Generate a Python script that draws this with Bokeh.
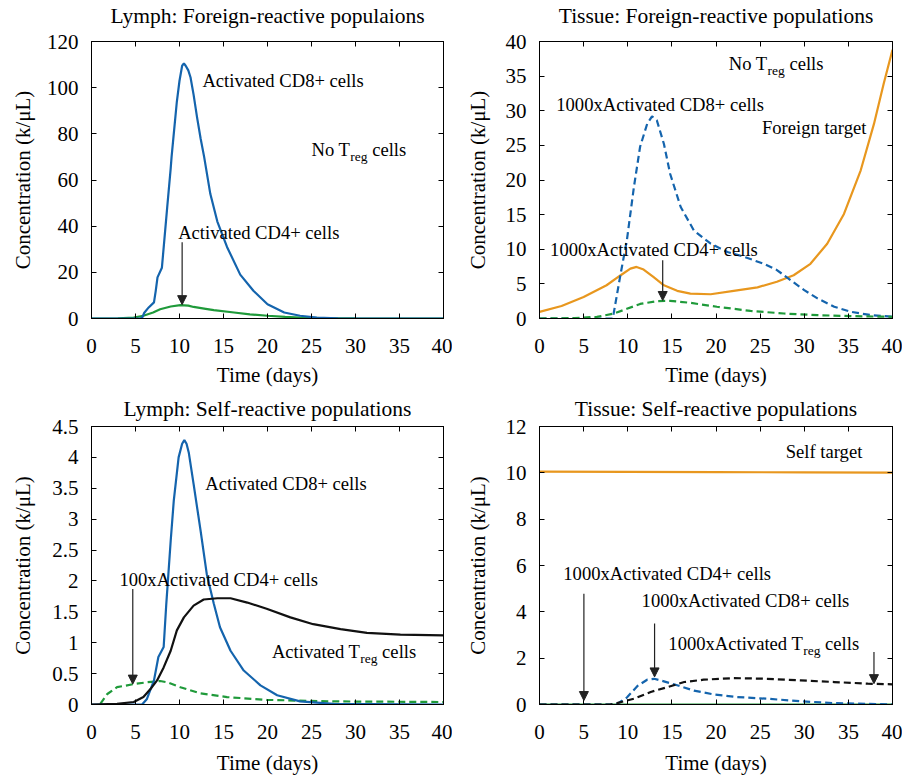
from bokeh.plotting import figure
from bokeh.models import (LinearAxis, Range1d, FixedTicker, Arrow, NormalHead,
                          CustomJSTickFormatter)
from bokeh.layouts import gridplot
from bokeh.core.properties import value
from bokeh.embed import file_html
from bokeh.resources import INLINE

FONT = "Liberation Serif"
BLUE = "#1464ad"
GREEN = "#1f9a3a"
ORANGE = "#e8971e"
BLACK = "#111111"

# ---------------- data ----------------
x_ticks = [0, 5, 10, 15, 20, 25, 30, 35, 40]

# Panel 1: Lymph, foreign-reactive
lf_cd8_t = [0, 5.5, 5.75, 6.0, 6.5, 7.1, 7.3, 7.5, 8.0, 8.3, 8.6, 9.0, 9.1, 9.4, 9.7, 10.0,
            10.3, 10.5, 10.7, 11.0, 11.25, 11.6, 12.0, 12.4, 12.8, 13.5, 14.3, 15.4, 16.9,
            18.4, 20.0, 21.9, 23.7, 25.6, 28, 32, 40]
lf_cd8_y = [0, 0, 0.3, 2.5, 4.8, 7, 12, 17.8, 22, 35, 48, 65, 70, 82, 94, 103,
            109.5, 110.5, 109.5, 107.5, 104.5, 97, 87, 78, 70, 54, 42, 31, 19,
            12, 6.2, 2.6, 1.2, 0.4, 0.1, 0, 0]
lf_cd4_t = [0, 3, 4.8, 5.9, 7, 7.8, 9, 10.1, 11.0, 11.6, 12.8, 13.9, 16.2, 18, 20, 22,
            23.7, 26, 30, 40]
lf_cd4_y = [0, 0.1, 0.4, 1.2, 2.6, 4, 5.2, 5.8, 5.6, 5.0, 4.3, 3.6, 2.6, 1.8, 1.2, 0.7,
            0.4, 0.2, 0.05, 0]
lf_y_ticks = [0, 20, 40, 60, 80, 100, 120]

# Panel 2: Tissue, foreign-reactive
tf_target_t = [0, 2.5, 5.0, 7.6, 9.2, 10.3, 11.0, 11.8, 12.9, 14.1, 15.6, 17.1, 19.4, 22.0,
               24.7, 26.9, 28.8, 30.7, 32.6, 34.5, 36.4, 37.9, 39.0, 40]
tf_target_y = [0.96, 1.8, 3.1, 4.8, 6.25, 7.2, 7.45, 7.07, 6.0, 4.8, 4.0, 3.6, 3.5, 4.0,
               4.5, 5.3, 6.25, 7.9, 10.8, 15.1, 21.4, 28.1, 33.9, 38.8]
tf_cd8_t = [0, 8.3, 8.4, 9.2, 9.9, 10.7, 11.4, 12.2, 12.75, 13.3, 14.1, 14.8, 16.0, 17.5,
            19.4, 21.3, 23.2, 25.4, 26.9, 28.5, 30.0, 31.5, 33.4, 35.3, 37.5, 40]
tf_cd8_y = [0, 0, 0.7, 6.5, 11.3, 19, 24.8, 28.1, 29.2, 28.6, 25.2, 20.9, 16.1, 12.7,
            10.8, 9.6, 8.9, 7.9, 7.0, 5.5, 4.1, 2.9, 1.7, 0.96, 0.5, 0.25]
tf_cd4_t = [0, 4, 6.5, 8.4, 9.9, 11.4, 13.3, 14.8, 17.1, 20.1, 23.9, 27.7, 31.5, 35.3, 40]
tf_cd4_y = [0, 0.05, 0.24, 0.7, 1.4, 2.1, 2.5, 2.55, 2.26, 1.7, 1.1, 0.72, 0.48, 0.34, 0.24]
tf_y_ticks = [0, 5, 10, 15, 20, 25, 30, 35, 40]

# Panel 3: Lymph, self-reactive
ls_cd8_t = [0, 5.75, 6.3, 7.1, 7.6, 8.2, 8.5, 9.0, 9.35, 9.9, 10.3, 10.55, 10.8, 11.05,
            11.6, 12.4, 13.1, 13.9, 14.6, 15.8, 17.3, 19.2, 21.1, 23.7, 27.5, 40]
ls_cd8_y = [0, 0, 0.09, 0.39, 0.77, 0.93, 1.63, 2.65, 3.3, 4.0, 4.22, 4.28, 4.22, 4.08,
            3.57, 2.81, 2.11, 1.63, 1.25, 0.87, 0.55, 0.31, 0.15, 0.05, 0.01, 0]
ls_treg_t = [0, 2.9, 4.8, 5.9, 6.7, 7.45, 8.2, 9.0, 9.7, 10.5, 11.6, 12.75, 14.3, 15.8,
             17.7, 19.9, 22.6, 25.2, 28.3, 31.3, 35.1, 40]
ls_treg_y = [0, 0.01, 0.04, 0.12, 0.25, 0.39, 0.6, 0.87, 1.2, 1.41, 1.6, 1.7, 1.72, 1.72,
             1.65, 1.55, 1.41, 1.3, 1.22, 1.16, 1.13, 1.12]
ls_cd4_t = [1.0, 1.8, 2.9, 4.8, 6.3, 7.8, 8.6, 10.1, 12.4, 15.4, 19.9, 27.5, 40]
ls_cd4_y = [0.01, 0.17, 0.28, 0.33, 0.36, 0.38, 0.36, 0.28, 0.18, 0.12, 0.075, 0.05, 0.04]
ls_y_ticks = [0, 0.5, 1, 1.5, 2, 2.5, 3, 3.5, 4, 4.5]

# Panel 4: Tissue, self-reactive
ts_target_t = [0, 10, 20, 30, 40]
ts_target_y = [10.05, 10.04, 10.03, 10.02, 10.01]
ts_cd4_t = [0, 10, 20, 30, 40]
ts_cd4_y = [0, 0, 0, 0, 0]
ts_cd8_t = [0, 8.5, 8.8, 9.9, 11.1, 12.2, 13.0, 14.1, 15.6, 17.5, 19.8, 22.4, 25.8, 29.6,
            33.4, 40]
ts_cd8_y = [0, 0, 0.03, 0.3, 0.8, 1.07, 1.11, 1.0, 0.83, 0.6, 0.43, 0.32, 0.25, 0.14,
            0.06, 0]
ts_treg_t = [0, 8, 8.8, 10.7, 12.6, 14.5, 16.4, 18.6, 22.0, 25.8, 29.6, 33.4, 37.2, 40]
ts_treg_y = [0, 0, 0.06, 0.25, 0.54, 0.75, 0.97, 1.07, 1.14, 1.11, 1.04, 0.97, 0.9, 0.87]
ts_y_ticks = [0, 2, 4, 6, 8, 10, 12]

# Times-like glyph widths (per 1000 em) for placing subscripts
W = {'N': 722, 'o': 500, ' ': 250, 'T': 611, 'A': 722, 'c': 444, 't': 278, 'i': 278,
     'v': 500, 'a': 444, 'e': 444, 'd': 500, '1': 500, '0': 500, 'x': 500, 'r': 333,
     'g': 500, 'l': 278, 's': 389}


def text_width(s, size):
    return sum(W.get(ch, 500) for ch in s) * size / 1000.0


ANN = 18.6  # annotation font size px
SUB = 13.5


def style_axis(ax, labels=True, standoff=13, label_standoff=12):
    ax.major_tick_in = 5
    ax.major_tick_out = 0
    ax.minor_tick_line_color = None
    ax.axis_line_color = "black"
    ax.major_tick_line_color = "black"
    ax.major_label_text_font = FONT
    if labels:
        ax.major_label_text_color = "black"
        ax.major_label_text_font_size = "21px"
        ax.major_label_standoff = standoff
    else:
        ax.major_label_text_color = None
        ax.major_label_text_font_size = "1px"
        ax.major_label_standoff = 0
    ax.axis_label_text_font = FONT
    ax.axis_label_text_font_size = "21px"
    ax.axis_label_text_font_style = "normal"
    ax.axis_label_text_color = "black"
    ax.axis_label_standoff = label_standoff


def make_fig(title, y_max, y_ticks, width, height, left, right, top, bottom,
             title_standoff, title_valign, xlab_standoff, ylab_standoff=9, fmt=None):
    p = figure(width=width, height=height, output_backend="svg", toolbar_location=None,
               x_range=Range1d(x_ticks[0], x_ticks[-1]), y_range=Range1d(0, y_max),
               min_border_left=left, min_border_right=right,
               min_border_top=top, min_border_bottom=bottom,
               x_axis_label="Time (days)", y_axis_label="Concentration (k/\u03bcL)")
    p.title.text = title
    p.title.align = "center"
    p.title.vertical_align = title_valign
    p.title.text_font = FONT
    p.title.text_font_size = "21.5px"
    p.title.text_font_style = "normal"
    p.title.text_color = "black"
    p.title.standoff = title_standoff
    p.grid.visible = False
    p.outline_line_color = "black"
    p.background_fill_color = "white"
    p.border_fill_color = "white"
    xt = FixedTicker(ticks=x_ticks)
    yt = FixedTicker(ticks=y_ticks)
    p.xaxis[0].ticker = xt
    p.yaxis[0].ticker = yt
    style_axis(p.xaxis[0], standoff=20, label_standoff=xlab_standoff)
    style_axis(p.yaxis[0], standoff=13, label_standoff=ylab_standoff)
    if fmt is not None:
        p.yaxis[0].formatter = fmt
    top_ax = LinearAxis(ticker=xt)
    style_axis(top_ax, labels=False)
    right_ax = LinearAxis(ticker=yt)
    style_axis(right_ax, labels=False)
    p.add_layout(top_ax, "above")
    p.add_layout(right_ax, "right")
    return p


def label(p, x, y, txt, x_offset=0):
    p.text(x=[x], y=[y], text=[txt], x_offset=x_offset, text_font=value(FONT),
           text_font_size=f"{ANN}px", text_align="left", text_baseline="middle",
           text_color="black")


def treg_label(p, x, y, prefix):
    main = prefix + "T"
    w1 = text_width(main, ANN)
    w2 = text_width("reg", SUB)
    label(p, x, y, main)
    p.text(x=[x], y=[y], text=["reg"], x_offset=w1, y_offset=7, text_font=value(FONT),
           text_font_size=f"{SUB}px", text_align="left", text_baseline="middle",
           text_color="black")
    label(p, x, y, "cells", x_offset=w1 + w2 + text_width(" ", ANN))


def arrow(p, x, y0, y1):
    p.add_layout(Arrow(end=NormalHead(size=9, fill_color="#222222", line_color="#222222",
                                      line_width=1),
                       x_start=x, y_start=y0, x_end=x, y_end=y1,
                       line_color="#222222", line_width=1.2))


DASH = "7 4"
SHIFT = 15  # the grid is lifted by this many px, so that titles can sit high
W1, W2 = 452, 450
ROW1 = dict(height=407, top=56, bottom=74, title_standoff=28, title_valign="bottom",
            xlab_standoff=7)
ROW2 = dict(height=388, top=34, bottom=76, title_standoff=7, title_valign="top",
            xlab_standoff=9)

# Panel 1
p1 = make_fig("Lymph: Foreign-reactive populaions", 120, lf_y_ticks, W1,
              left=91, right=9, **ROW1)
p1.line(lf_cd4_t, lf_cd4_y, line_color=GREEN, line_width=2.2)
p1.line(lf_cd8_t, lf_cd8_y, line_color=BLUE, line_width=2.2)
label(p1, 12.6, 103.3, "Activated CD8+ cells")
treg_label(p1, 25.0, 73.4, "No ")
label(p1, 9.85, 37.3, "Activated CD4+ cells")
arrow(p1, 10.3, 33, 6)

# Panel 2
p2 = make_fig("Tissue: Foreign-reactive populations", 40, tf_y_ticks, W2,
              left=87, right=10, ylab_standoff=13, **ROW1)
p2.line(tf_target_t, tf_target_y, line_color=ORANGE, line_width=2.2)
p2.line(tf_cd8_t, tf_cd8_y, line_color=BLUE, line_width=2.2, line_dash=DASH)
p2.line(tf_cd4_t, tf_cd4_y, line_color=GREEN, line_width=2.2, line_dash=DASH)
treg_label(p2, 21.45, 36.8, "No ")
label(p2, 1.9, 30.9, "1000xActivated CD8+ cells")
label(p2, 25.2, 27.6, "Foreign target")
label(p2, 1.2, 9.95, "1000xActivated CD4+ cells")
arrow(p2, 13.96, 8.4, 2.6)

# Panel 3
fmt3 = CustomJSTickFormatter(code="return String(tick);")
p3 = make_fig("Lymph: Self-reactive populations", 4.5, ls_y_ticks, W1,
              left=91, right=9, ylab_standoff=14, fmt=fmt3, **ROW2)
p3.line(ls_cd4_t, ls_cd4_y, line_color=GREEN, line_width=2.2, line_dash=DASH)
p3.line(ls_cd8_t, ls_cd8_y, line_color=BLUE, line_width=2.2)
p3.line(ls_treg_t, ls_treg_y, line_color=BLACK, line_width=2.2)
label(p3, 12.94, 3.57, "Activated CD8+ cells")
label(p3, 3.18, 2.02, "100xActivated CD4+ cells")
arrow(p3, 4.69, 1.87, 0.33)
treg_label(p3, 20.5, 0.85, "Activated ")

# Panel 4
p4 = make_fig("Tissue: Self-reactive populations", 12, ts_y_ticks, W2,
              left=87, right=10, ylab_standoff=13, **ROW2)
p4.line(ts_target_t, ts_target_y, line_color=ORANGE, line_width=2.2)
p4.line(ts_cd4_t, ts_cd4_y, line_color=GREEN, line_width=2.2)
p4.line(ts_cd8_t, ts_cd8_y, line_color=BLUE, line_width=2.2, line_dash=DASH)
p4.line(ts_treg_t, ts_treg_y, line_color=BLACK, line_width=2.2, line_dash=DASH)
label(p4, 27.9, 10.93, "Self target")
label(p4, 2.7, 5.64, "1000xActivated CD4+ cells")
arrow(p4, 5.03, 4.78, 0.17)
label(p4, 11.57, 4.51, "1000xActivated CD8+ cells")
arrow(p4, 13.04, 3.5, 1.19)
treg_label(p4, 14.6, 2.63, "1000xActivated ")
arrow(p4, 37.9, 2.27, 0.9)

grid = gridplot([[p1, p2], [p3, p4]], toolbar_location=None)
grid.styles = {"margin-top": f"-{SHIFT}px"}

open("out.html", "w").write(file_html(grid, INLINE))
